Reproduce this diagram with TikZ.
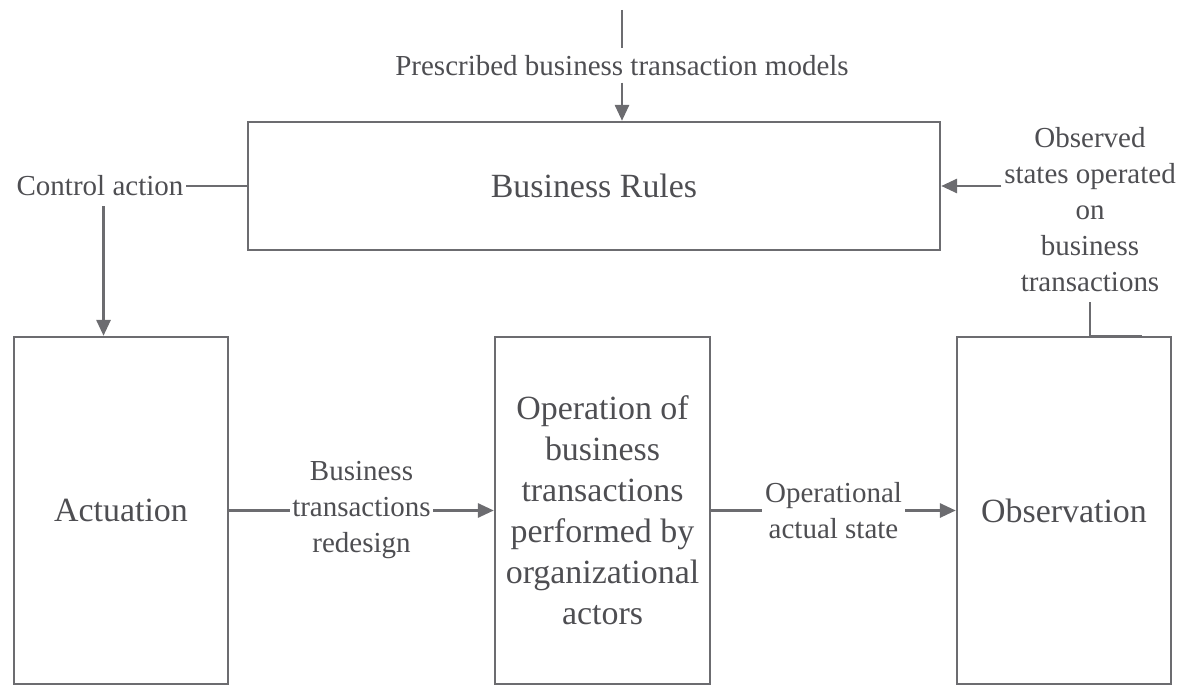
\documentclass[tikz,border=0pt]{standalone}
\usepackage{fontspec}
\setmainfont{Liberation Serif}
\usetikzlibrary{arrows.meta}
\definecolor{linegray}{RGB}{108,108,112}
\definecolor{textgray}{RGB}{78,78,82}

\begin{document}
\begin{tikzpicture}[
    box/.style={draw=linegray, line width=1.4pt, align=center, text=textgray,
      font=\fontsize{19.3}{23.3}\selectfont},
    lbl/.style={text=textgray, align=center, inner sep=1.5pt,
      font=\fontsize{16.5}{20.5}\selectfont},
    conn/.style={draw=linegray, line width=1.4pt},
    arr/.style={conn, -{Triangle[length=9pt,width=8pt]}}]
        \useasboundingbox (0,0) rectangle (23.64,13.7);
        \node[box, minimum width=13.84cm, minimum height=2.56cm] (rules) at (11.88,9.98) {Business Rules};
        \node[box, minimum width=4.28cm, minimum height=6.94cm] (act) at (2.42,3.49) {Actuation};
        \node[box, minimum width=4.3cm, minimum height=6.94cm] (oper) at (12.05,3.49) {Operation of\\business\\transactions\\performed by\\organizational\\actors};
        \node[box, minimum width=4.28cm, minimum height=6.94cm] (obs) at (21.28,3.49) {Observation};
        \coordinate (src) at (12.44,13.5);
        \node[lbl] (presc) at (12.44,12.38) {Prescribed business transaction models};
        \node[lbl] (ctrl) at (2.0,9.98) {Control action};
        \node[lbl] (obsl) at (21.8,9.5) {Observed\\states operated\\on\\business\\transactions};
        \draw[conn, shorten >=3pt] (src) -- (presc.north);
        \draw[arr, shorten <=2pt] (presc.south) -- (presc.south |- rules.north);
        \draw[conn] (rules.west) -- (ctrl.east);
        \draw[arr, shorten <=4pt] ([xshift=2pt]ctrl.south) -- ([xshift=2pt]ctrl.south |- act.north);
        \draw[arr] (obsl.west |- rules.east) -- (rules.east);
        \draw[conn, shorten <=4pt] (obsl.south) -- (obsl.south |- obs.north) -- ++(1.04,0);
        \draw[arr] (act.east) -- (oper.west) node[lbl, midway, fill=white]{Business\\transactions\\redesign};
        \draw[arr] (oper.east) -- (obs.west) node[lbl, midway, fill=white]{Operational\\actual state};
\end{tikzpicture}
\end{document}
